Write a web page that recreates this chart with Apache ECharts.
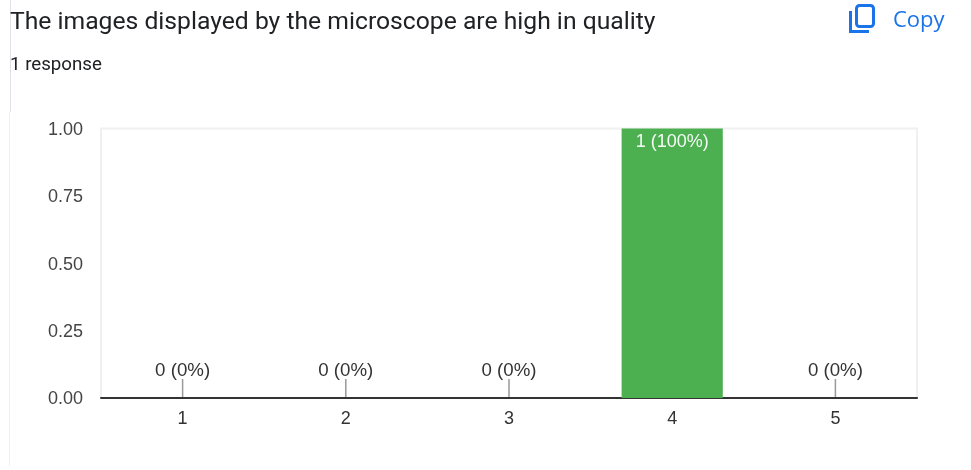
<!DOCTYPE html>
<html>
<head>
<meta charset="utf-8">
<style>html,body{margin:0;padding:0;background:#fff}#chart{width:971px;height:470px}</style>
<script src="https://cdn.jsdelivr.net/npm/echarts@6/dist/echarts.min.js"></script>
</head>
<body>
<div id="chart"></div>
<script>
const categories = ['1', '2', '3', '4', '5'];
const counts = [0, 0, 0, 1, 0];
const percents = [0, 0, 0, 100, 0];
const yTicks = [0, 0.25, 0.5, 0.75, 1];
const titleText = 'The images displayed by the microscope are high in quality';
const responseText = '1 response';
const copyText = 'Copy';

const chart = echarts.init(document.getElementById('chart'), null, { renderer: 'canvas' });
const axisFont = '"Liberation Sans", Arial, sans-serif';
const valueLabel = i => counts[i] + ' (' + percents[i] + '%)';

chart.setOption({
  animation: false,
  backgroundColor: '#ffffff',
  grid: {
    left: 101, right: 54, top: 128.5, bottom: 72,
    show: true, borderColor: '#f0f0f0', borderWidth: 2, backgroundColor: 'transparent'
  },
  xAxis: {
    type: 'category',
    data: categories,
    axisTick: { show: false },
    axisLine: { lineStyle: { color: '#333333', width: 2 } },
    axisLabel: { color: '#333333', fontFamily: axisFont, fontSize: 18, margin: 12 }
  },
  yAxis: {
    type: 'value',
    min: 0, max: 1, interval: 0.25,
    splitLine: { show: false },
    axisLine: { show: false },
    axisTick: { show: false },
    axisLabel: {
      color: '#444444', fontFamily: axisFont, fontSize: 18, margin: 18,
      formatter: v => '{tick|' + yTicks.find(t => t === v).toFixed(2) + '}',
      rich: { tick: { color: '#444444', fontFamily: axisFont, fontSize: 18, padding: [3, 0, 0, 0] } }
    }
  },
  graphic: [
    { type: 'rect', shape: { x: 10, y: 0, width: 1, height: 112 }, style: { fill: '#dfe1e8' }, silent: true },
    { type: 'rect', shape: { x: 9, y: 112, width: 1, height: 354 }, style: { fill: '#f1f1f1' }, silent: true },
    { type: 'text', x: 10, y: 23, style: { text: titleText, fill: '#202124', font: '400 24.7px Roboto', textVerticalAlign: 'middle' } },
    { type: 'text', x: 10, y: 65, style: { text: responseText, fill: '#202124', font: '400 18.7px Roboto', textVerticalAlign: 'middle' } },
    // Copy icon: rounded page outline with an L-shaped page behind it
    { type: 'rect', shape: { x: 856.5, y: 5.5, width: 17, height: 21, r: 3 }, style: { fill: 'none', stroke: '#1a73e8', lineWidth: 3 }, silent: true },
    { type: 'polyline', shape: { points: [[850.5, 11], [850.5, 31.5], [869, 31.5]] }, style: { fill: 'none', stroke: '#1a73e8', lineWidth: 3 }, silent: true },
    { type: 'text', x: 893, y: 21, style: { text: copyText, fill: '#1a73e8', font: '500 22px "Open Sans"', textVerticalAlign: 'middle' } }
  ],
  series: [
    {
      type: 'bar',
      data: counts,
      barWidth: '62%',
      itemStyle: { color: '#4caf50' },
      label: { show: false }
    },
    {
      // Value labels, with a short leader stem for empty categories
      type: 'custom',
      data: counts,
      z: 5,
      renderItem: (params, api) => {
        const i = params.dataIndex;
        const p = api.coord([i, counts[i]]);
        if (counts[i] > 0) {
          return { type: 'text', style: { x: p[0], y: p[1] + 14, text: valueLabel(i), fill: '#f4faf4', font: '18px ' + axisFont, textAlign: 'center', textVerticalAlign: 'middle' } };
        }
        return {
          type: 'group',
          children: [
            { type: 'line', shape: { x1: p[0], y1: p[1] - 1, x2: p[0], y2: p[1] - 19 }, style: { stroke: '#999999', lineWidth: 1.5 } },
            { type: 'text', style: { x: p[0], y: p[1] - 27, text: valueLabel(i), fill: '#333333', font: '18.7px ' + axisFont, textAlign: 'center', textVerticalAlign: 'middle' } }
          ]
        };
      }
    }
  ]
});
</script>
</body>
</html>
